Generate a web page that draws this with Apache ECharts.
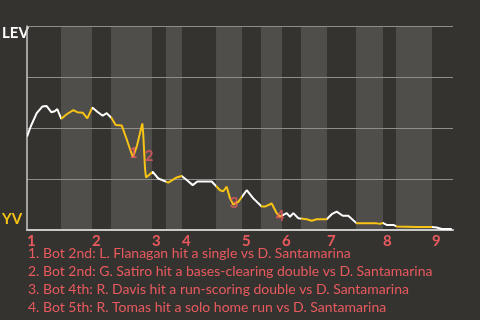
<!DOCTYPE html>
<html>
<head>
<meta charset="utf-8">
<script src="https://cdn.jsdelivr.net/npm/echarts@6/dist/echarts.min.js"></script>
<style>
html,body{margin:0;padding:0;background:#353330;}
#c{width:480px;height:320px;}
</style>
</head>
<body>
<div id="c"></div>
<script>
// ---- data ----
// x: game progress (0-100), y: leverage index
const levX = [0,0.87,2.28,3.59,4.62,5.70,6.50,7.11,8.05,9.32,10.87,11.81,13.08,14.15,15.33,16.50,17.77,18.71,19.79,20.82,22.23,23.40,24.41,24.88,25.82,26.53,27.07,27.30,27.70,27.93,29.51,30.82,33.17,35.14,36.31,37.49,38.90,39.98,43.36,45.31,46.08,46.88,47.65,48.43,49.60,51.57,53.12,55.09,55.87,57.44,58.62,59.39,60.96,61.74,62.51,63.69,65.66,66.83,68.00,70.35,71.53,72.70,74.11,75.42,77.39,82.09,82.86,83.50,84.44,85.99,86.78,91.48,91.85,95.00,96.17,97.35,99.70];
const levY = [1.83,2.03,2.29,2.42,2.43,2.31,2.33,2.37,2.18,2.27,2.35,2.31,2.30,2.19,2.40,2.32,2.24,2.29,2.20,2.06,2.05,1.78,1.53,1.43,1.65,1.90,2.09,1.86,1.21,1.03,1.14,1.01,0.93,1.03,1.06,0.98,0.88,0.95,0.95,0.78,0.76,0.85,0.62,0.50,0.55,0.78,0.62,0.46,0.46,0.52,0.33,0.26,0.33,0.26,0.33,0.23,0.21,0.18,0.21,0.21,0.31,0.36,0.28,0.28,0.13,0.13,0.12,0.14,0.10,0.10,0.07,0.06,0.05,0.06,0.05,0.02,0.02];
// half-inning boundaries (game progress)
const topStarts = [0,15.26,29.34,36.38,50.47,59.86,70.42,83.57,95.07];
const botStarts = [7.98,19.72,32.63,44.37,54.93,64.32,77.23,86.62];
const gameEnd = 100;
const inningLabels = ['1','2','3','4','5','6','7','8','9'];
// annotations
const noteLabels = ['1','2','3','4'];
const noteX = [24.96,28.64,48.59,59.39];
const noteY = [1.51,1.44,0.53,0.27];
const noteTexts = [
  '1. Bot 2nd: L. Flanagan hit a single vs D. Santamarina',
  '2. Bot 2nd: G. Satiro hit a bases-clearing double vs D. Santamarina',
  '3. Bot 4th: R. Davis hit a run-scoring double vs D. Santamarina',
  '4. Bot 5th: R. Tomas hit a solo home run vs D. Santamarina'
];
const yTopLabel = 'LEV';
const yBottomLabel = 'YV';

// ---- build ----
const YEL = '#f7c315', RED = '#e85a5e', FONT = 'Lato, "Open Sans", sans-serif';
const lineData = levX.map((x,i)=>[x, levY[i]]);
const bands = botStarts.map((b,i)=>[{xAxis:b},{xAxis:topStarts[i+1]}]);
const pieces = [];
topStarts.forEach((t,i)=>{
  const b = botStarts[i];
  pieces.push({gte:t, lt: b!==undefined ? b : gameEnd+1, color:'#ffffff'});
  if (b!==undefined) pieces.push({gte:b, lt: topStarts[i+1], color:YEL});
});
const chart = echarts.init(document.getElementById('c'));
chart.setOption({
  backgroundColor:'#353330',
  animation:false,
  grid:{left:27,right:27,top:26,bottom:90},
  xAxis:{type:'value',min:0,max:gameEnd,z:3,
    axisLine:{show:true,lineStyle:{color:'#c9c9c7',width:2}},
    axisTick:{show:false},splitLine:{show:false},
    axisLabel:{customValues:topStarts,formatter:(v)=>{const i=topStarts.indexOf(v);return i>=0?inningLabels[i]:'';},
      color:RED,fontFamily:FONT,fontWeight:'bold',fontSize:15,align:'left',margin:4,showMinLabel:true,showMaxLabel:true}},
  yAxis:{type:'value',min:0,max:4,interval:1,z:1.5,
    axisLine:{show:true,lineStyle:{color:'#c9c9c7',width:1.5}},
    axisTick:{show:false},axisLabel:{show:false},
    splitLine:{show:true,lineStyle:{color:'#8e8d8a',width:1}}},
  visualMap:{show:false,type:'piecewise',dimension:0,seriesIndex:1,pieces:pieces},
  series:[
    {type:'line',data:[],z:1,silent:true,
     markArea:{silent:true,itemStyle:{color:'#4f4e4b'},data:bands}},
    {type:'line',data:lineData,z:4,symbol:'none',lineStyle:{width:2}},
    {type:'scatter',zlevel:1,z:5,symbolSize:0,data:noteX.map((x,i)=>[x,noteY[i]]),
     label:{show:true,position:'inside',formatter:(p)=>noteLabels[p.dataIndex],color:RED,fontFamily:FONT,fontWeight:'bold',fontSize:15}}
  ],
  graphic:[
    {type:'text',left:2,top:26,style:{text:yTopLabel,fill:'#ffffff',font:'bold 15px '+FONT}},
    {type:'text',left:2,top:212,style:{text:yBottomLabel,fill:YEL,font:'bold 15px '+FONT}}
  ].concat(noteTexts.map((t,i)=>({type:'text',left:28,top:246+i*18,style:{text:t,fill:RED,font:'14px '+FONT}})))
});
</script>
</body>
</html>
